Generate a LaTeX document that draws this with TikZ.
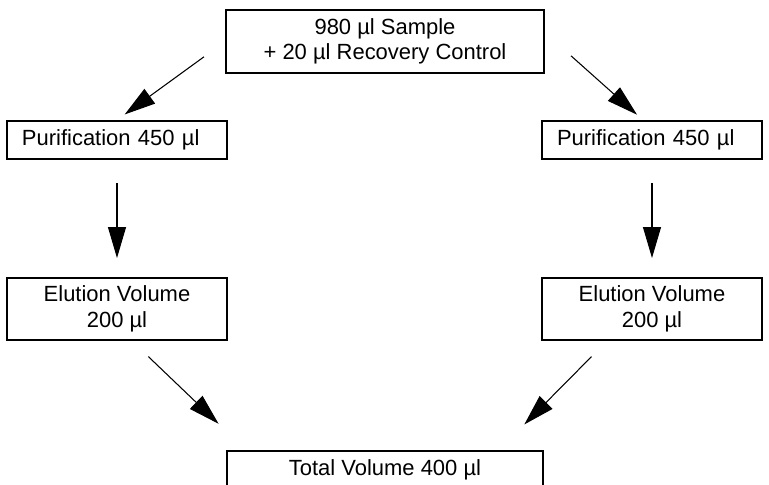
\documentclass[tikz,border=0pt]{standalone}
\usepackage{fontspec}
\setmainfont{Liberation Sans}
\usetikzlibrary{arrows.meta}

\begin{document}
\begin{tikzpicture}[auto, node distance=3.38cm, >={Triangle[length=0.62cm, width=0.36cm]},
    box/.style={draw, line width=1.1pt, align=center, inner sep=0pt,
        font=\fontsize{12.5}{14.5}\selectfont},
    smallbox/.style={box, align=left, inner xsep=0.3cm, text width=3.8cm, minimum height=0.76cm},
    tallbox/.style={box, minimum width=4.4cm, minimum height=1.24cm},
    flow/.style={->, line width=0.6pt}]

    \useasboundingbox (0,0) rectangle (15.38,-9.70);

    % Nodes
    \node[box, minimum width=6.36cm, minimum height=1.26cm] (sample) at (7.70,-0.83)
        {980 µl Sample\\+ 20 µl Recovery Control};
    \node[smallbox] (purL) at (2.34,-2.80) {Purification 450 µl};
    \node[smallbox] (purR) [right of=purL, node distance=10.70cm] {Purification 450 µl};
    \node[tallbox] (eluL) [below of=purL] {Elution Volume\\200 µl};
    \node[tallbox] (eluR) [below of=purR] {Elution Volume\\200 µl};
    \node[box, minimum width=6.32cm, minimum height=0.76cm] (total) at (7.70,-9.40)
        {Total Volume 400 µl};

    % Arrows
    \draw[flow, shorten <=0.52cm, shorten >=0.19cm] (sample.west) to (purL.north);
    \draw[flow, shorten <=0.43cm, shorten >=0.16cm] ([xshift=0.2cm]sample.east) to ([xshift=-0.18cm]purR.north);
    \draw[flow, shorten <=0.46cm, shorten >=0.38cm] (purL) to (eluL);
    \draw[flow, shorten <=0.46cm, shorten >=0.38cm] (purR) to (eluR);
    \draw[flow, shorten <=0.45cm, shorten >=0.76cm] ([xshift=0.3cm]eluL.south) to ([xshift=0.4cm]total.north west);
    \draw[flow, shorten <=0.44cm, shorten >=0.72cm] ([xshift=-0.9cm]eluR.south) to ([xshift=-0.9cm]total.north east);
\end{tikzpicture}
\end{document}
